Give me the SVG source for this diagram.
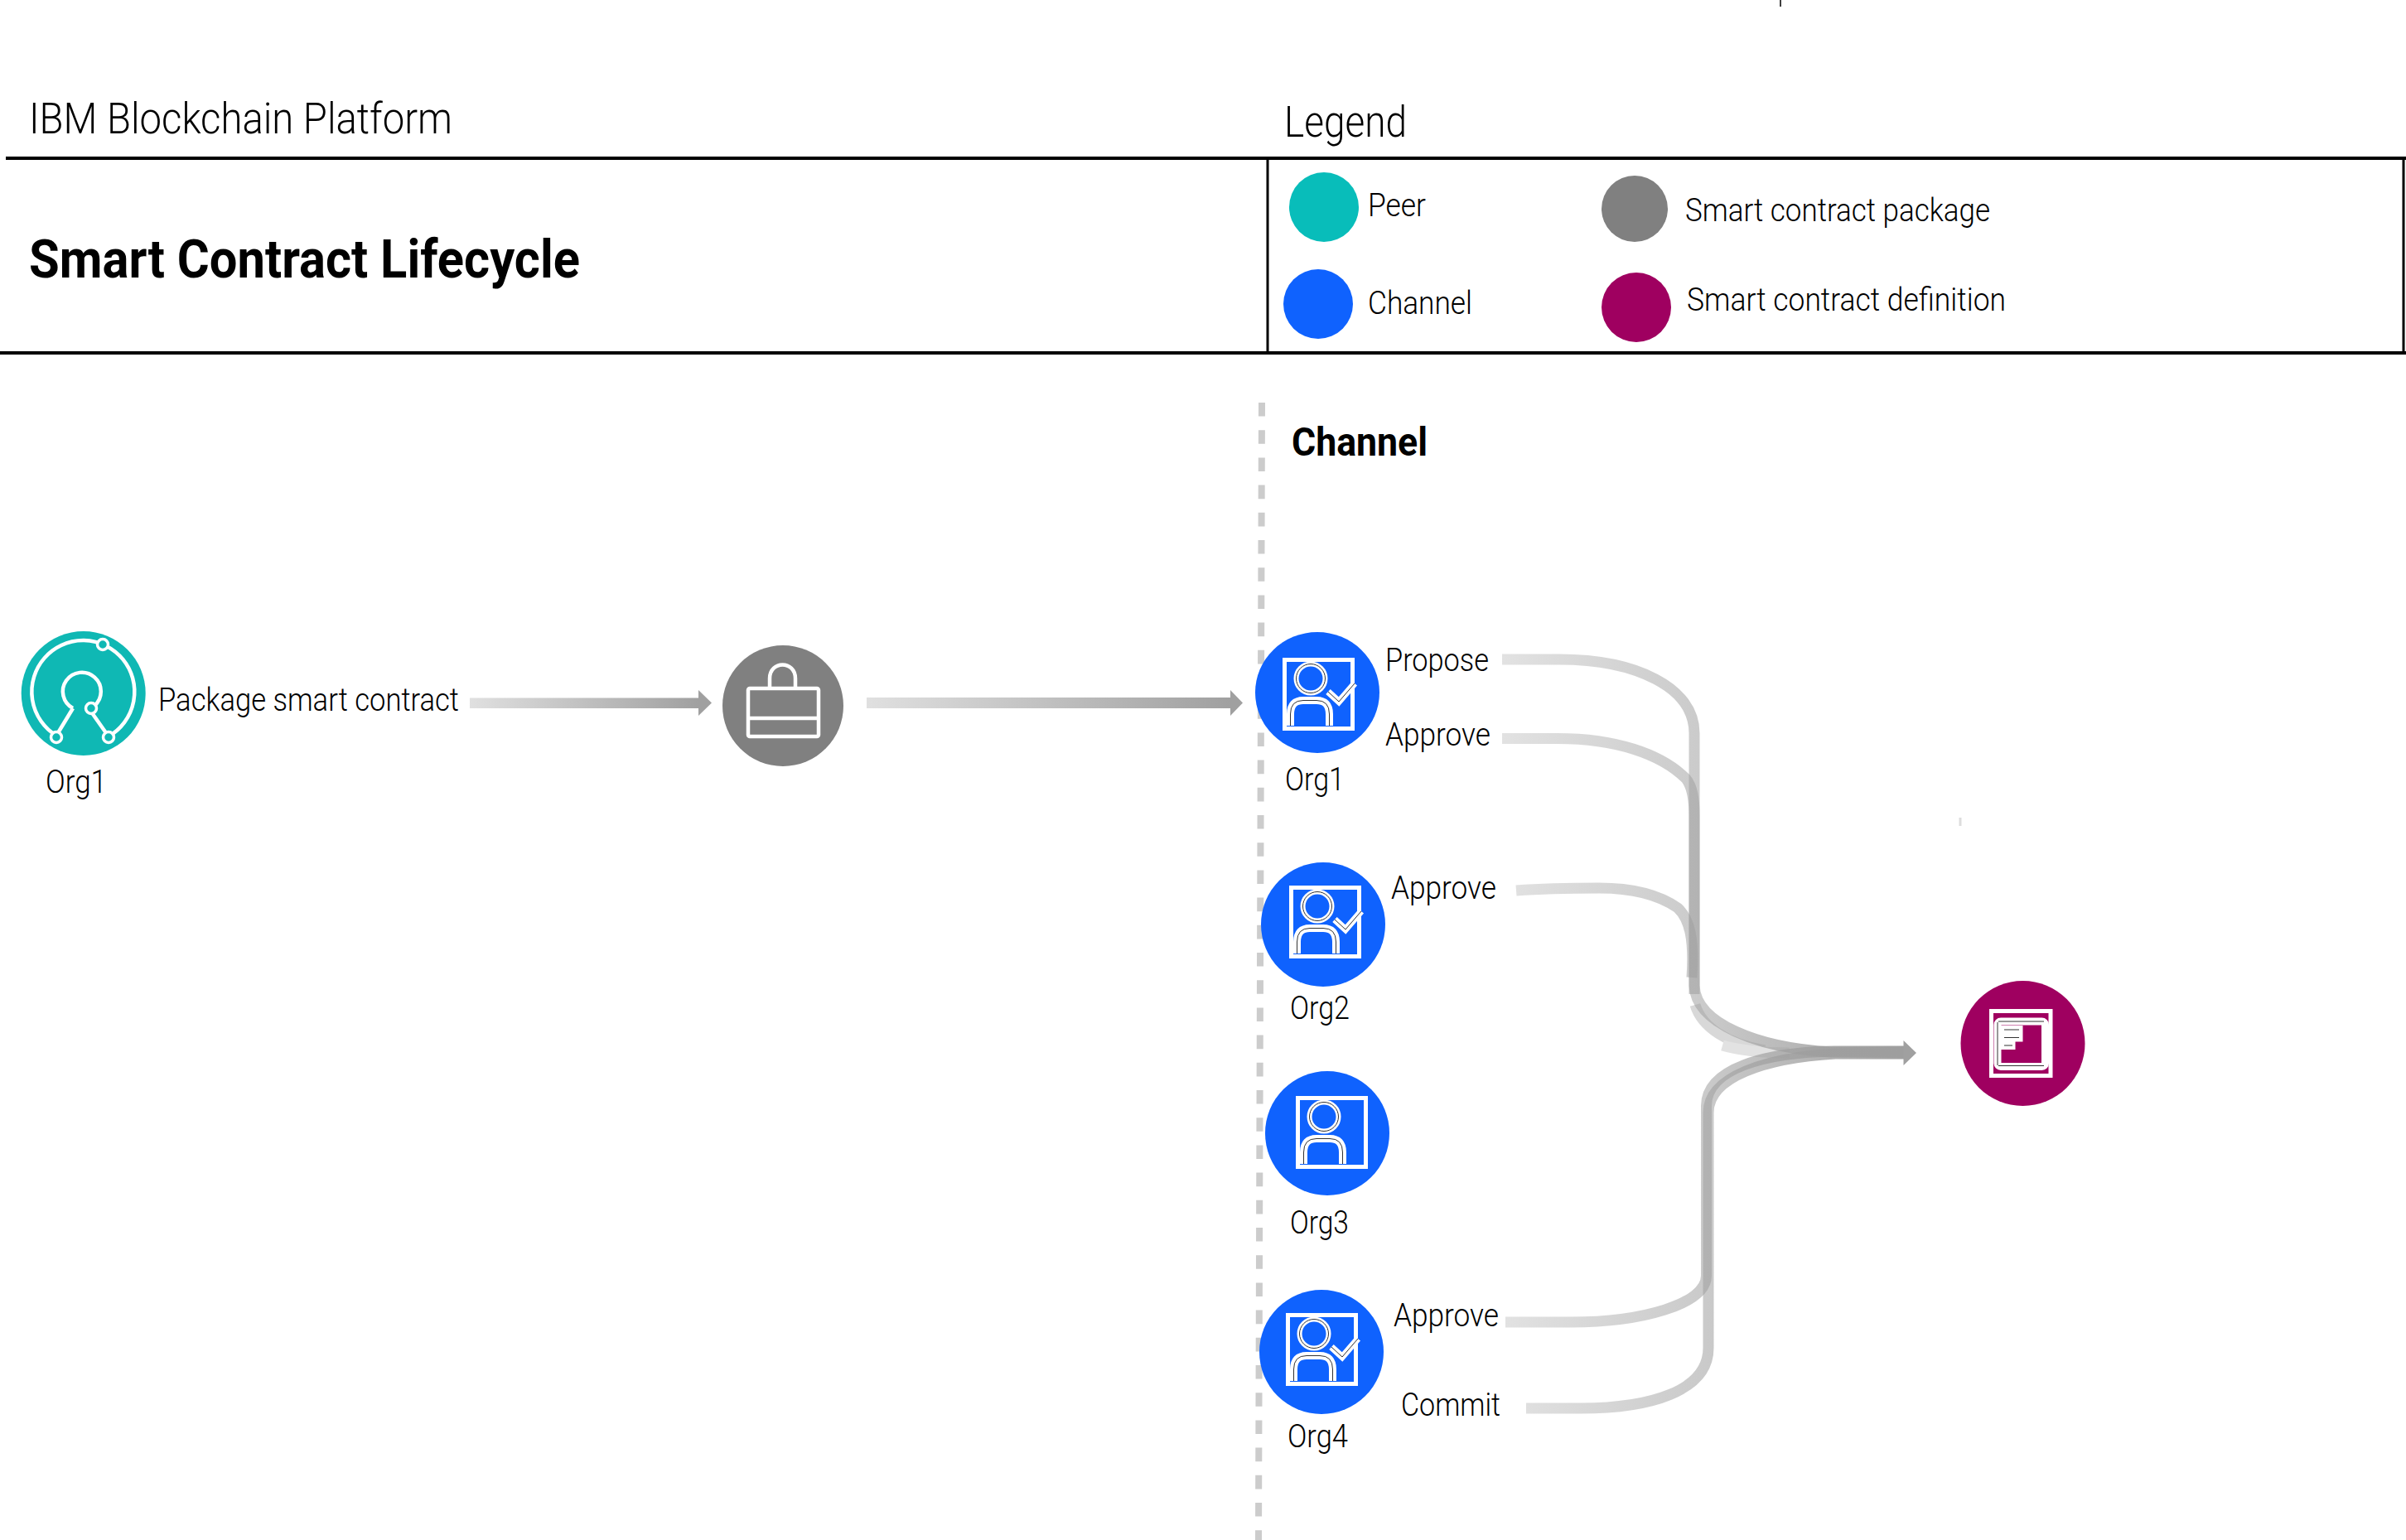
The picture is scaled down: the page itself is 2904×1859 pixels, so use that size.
<svg xmlns="http://www.w3.org/2000/svg" xmlns:xlink="http://www.w3.org/1999/xlink" width="2904" height="1859" viewBox="0 0 2904 1859">
<style>
text{font-family:"Liberation Sans Narrow","Roboto",sans-serif;fill:#000}
.l{font-size:38px;font-weight:300}
.t{font-size:51px;font-weight:300}
.b{font-weight:700}
.rule{stroke:#000;fill:none}
.w{fill:none;stroke:#fff;stroke-width:4.5}
.conn{fill:none;stroke-width:13}
.thin{fill:none;stroke:#333;stroke-width:1}
.fat{fill:none;stroke:#fff;stroke-width:9}
.head{fill:#a0a0a0}
</style>
<defs>
<linearGradient id="gU" gradientUnits="userSpaceOnUse" x1="1813" y1="0" x2="2313" y2="0"><stop offset="0" stop-color="#9e9e9e" stop-opacity=".3"/><stop offset=".5" stop-color="#9e9e9e" stop-opacity=".55"/><stop offset="1" stop-color="#9e9e9e" stop-opacity="1"/></linearGradient>
<linearGradient id="gA1" gradientUnits="userSpaceOnUse" x1="567" y1="0" x2="843" y2="0"><stop offset="0" stop-color="#e0e0e0"/><stop offset="1" stop-color="#a0a0a0"/></linearGradient>
<linearGradient id="gA2" gradientUnits="userSpaceOnUse" x1="1046" y1="0" x2="1485" y2="0"><stop offset="0" stop-color="#e0e0e0"/><stop offset="1" stop-color="#a0a0a0"/></linearGradient>
<g id="person">
<rect x="2.500" y="2.500" width="82" height="83" fill="none" stroke="#fff" stroke-width="5"/>
<ellipse cx="34" cy="25" rx="17.500" ry="17.500" fill="none" stroke="#fff" stroke-width="6"/>
<ellipse cx="34" cy="25" rx="17.500" ry="17.500" class="thin"/>
<path class="fat" d="M9.500 82V68Q9.500 51.500 25 51.500H41Q56.500 51.500 56.500 68V82"/>
<path class="thin" d="M9.500 82V68Q9.500 51.500 25 51.500H41Q56.500 51.500 56.500 68V82"/>
</g>
<g id="check">
<path d="M55 41L68 53L87 31" fill="none" stroke="#fff" stroke-width="8"/>
<path class="thin" d="M55 41L68 53L87 31" stroke-width=".8"/>
</g>
</defs>
<rect width="2904" height="1859" fill="#fff"/>

<g id="header">
<path class="rule" stroke-width="1.500" d="M2149 0V8"/>
<path class="rule" stroke-width="4" d="M7 191H2904M0 426H2904"/>
<path class="rule" stroke-width="3" d="M1530 191V426M2901 191V426"/>
<text class="t" x="35" y="160.500" textLength="511" lengthAdjust="spacingAndGlyphs">IBM Blockchain Platform</text>
<text class="b" style="font-size:65px" x="35" y="335" textLength="665" lengthAdjust="spacingAndGlyphs">Smart Contract Lifecycle</text>
<text class="t" x="1550" y="165" textLength="148" lengthAdjust="spacingAndGlyphs">Legend</text>
</g>

<g id="legend">
<ellipse cx="1598" cy="250" rx="42" ry="42" fill="#08bdba"/>
<text class="l" x="1651" y="261" textLength="70" lengthAdjust="spacingAndGlyphs">Peer</text>
<ellipse cx="1591" cy="367" rx="42" ry="42" fill="#0f62fe"/>
<text class="l" x="1651" y="379" textLength="126" lengthAdjust="spacingAndGlyphs">Channel</text>
<ellipse cx="1973" cy="252" rx="40" ry="40" fill="#808080"/>
<text class="l" x="2034" y="267" textLength="368" lengthAdjust="spacingAndGlyphs">Smart contract package</text>
<ellipse cx="1975" cy="371" rx="42" ry="42" fill="#9f0060"/>
<text class="l" x="2036" y="375" textLength="385" lengthAdjust="spacingAndGlyphs">Smart contract definition</text>
</g>

<path id="channel-line" d="M1523 486L1519 1859" fill="none" stroke="#ccc" stroke-width="8" stroke-dasharray="16.6 16.6"/>
<text id="channel-title" class="b" style="font-size:48px" x="1559" y="549.500" textLength="164" lengthAdjust="spacingAndGlyphs">Channel</text>
<rect id="mark" x="2364.500" y="987" width="3" height="10" fill="#ddd"/>

<g id="connectors">
<path d="M567 842.500H843V833L859 848.500L843 864V855H567Z" fill="url(#gA1)"/>
<path d="M1046 842H1485V833L1500 848.500L1485 864V855H1046Z" fill="url(#gA2)"/>
<path class="conn" stroke="#d8d8d8" d="M2046 1213C2054 1240 2085 1260 2130 1268"/>
<path class="conn" stroke="#e2e2e2" d="M2079 1262C2100 1268 2125 1271 2160 1271"/>
<path class="conn" stroke="url(#gU)" d="M1813 796H1882C1975 796 2045 830 2045 885V1190C2047 1235 2120 1265 2210 1270H2298"/>
<path class="conn" stroke="url(#gU)" d="M1813 891.500H1880C1950 891.500 2005 910 2035 940C2043 950 2045 965 2045 985V1200"/>
<path class="conn" stroke="url(#gU)" d="M1830 1075C1870 1072 1900 1072 1930 1072C1975 1072 2005 1082 2025 1096C2040 1110 2045 1135 2042 1180"/>
<path class="conn" stroke="url(#gU)" d="M1817 1596H1896C1980 1596 2059.500 1575 2059.500 1540V1335C2059.500 1290 2130 1270 2215 1269H2298"/>
<path class="conn" stroke="url(#gU)" d="M1842 1700H1908C1990 1700 2062 1680 2062 1627V1343C2062 1300 2130 1277 2215 1272H2298"/>
<path class="head" d="M2297.500 1256L2313 1271L2297.500 1286Z"/>
</g>

<g id="peer-org1">
<ellipse cx="100.700" cy="837" rx="75" ry="75" fill="#0fb8b4"/>
<path class="w" d="M68 888A62 62 0 1 1 131 889"/>
<path class="w" d="M88 855A23 23 0 1 1 114 852"/>
<path class="w" d="M88 855L68 888M112 862L131 889"/>
<circle class="w" cx="124" cy="778" r="6.500" style="fill:#0fb8b4;stroke-width:3.500"/>
<circle class="w" cx="68" cy="890" r="6.500" style="fill:#0fb8b4;stroke-width:3.500"/>
<circle class="w" cx="131" cy="890" r="6.500" style="fill:#0fb8b4;stroke-width:3.500"/>
<circle class="w" cx="110" cy="855" r="6.500" style="fill:#0fb8b4;stroke-width:3.500"/>
<text class="l" x="55" y="957" textLength="74" lengthAdjust="spacingAndGlyphs">Org1</text>
<text class="l" x="191" y="858" textLength="363" lengthAdjust="spacingAndGlyphs">Package smart contract</text>
</g>

<g id="package">
<ellipse cx="945" cy="852" rx="73" ry="73" fill="#808080"/>
<rect class="w" x="903" y="831" width="85" height="58" rx="2"/>
<path class="w" d="M903 867H988M929 831V819C929 797 960 797 960 819V831"/>
</g>

<g id="channel-org1">
<ellipse cx="1590" cy="836" rx="75" ry="73" fill="#0f62fe"/>
<use xlink:href="#person" href="#person" x="1548" y="794"/><use xlink:href="#check" href="#check" x="1548" y="794"/>
<text class="l" x="1551" y="954" textLength="72" lengthAdjust="spacingAndGlyphs">Org1</text>
<text class="l" x="1672" y="810" textLength="125" lengthAdjust="spacingAndGlyphs">Propose</text>
<text class="l" x="1672" y="900" textLength="127" lengthAdjust="spacingAndGlyphs">Approve</text>
</g>

<g id="channel-org2">
<ellipse cx="1597" cy="1116" rx="75" ry="75" fill="#0f62fe"/>
<use xlink:href="#person" href="#person" x="1556" y="1069"/><use xlink:href="#check" href="#check" x="1556" y="1069"/>
<text class="l" x="1557" y="1230" textLength="72" lengthAdjust="spacingAndGlyphs">Org2</text>
<text class="l" x="1679" y="1085" textLength="127" lengthAdjust="spacingAndGlyphs">Approve</text>
</g>

<g id="channel-org3">
<ellipse cx="1602" cy="1368" rx="75" ry="75" fill="#0f62fe"/>
<use xlink:href="#person" href="#person" x="1564" y="1323"/>
<text class="l" x="1557" y="1489" textLength="71" lengthAdjust="spacingAndGlyphs">Org3</text>
</g>

<g id="channel-org4">
<ellipse cx="1595" cy="1632" rx="75" ry="75" fill="#0f62fe"/>
<use xlink:href="#person" href="#person" x="1552" y="1585"/><use xlink:href="#check" href="#check" x="1552" y="1585"/>
<text class="l" x="1554" y="1747" textLength="73" lengthAdjust="spacingAndGlyphs">Org4</text>
<text class="l" x="1682" y="1601" textLength="127" lengthAdjust="spacingAndGlyphs">Approve</text>
<text class="l" x="1691" y="1709" textLength="120" lengthAdjust="spacingAndGlyphs">Commit</text>
</g>

<g id="definition">
<ellipse cx="2441.500" cy="1259.500" rx="75" ry="75.500" fill="#9f0060"/>
<rect x="2403.500" y="1220.500" width="71.500" height="78" fill="none" stroke="#fff" stroke-width="5"/>
<rect x="2411" y="1233" width="57.500" height="54.500" rx="4" fill="none" stroke="#fff" stroke-width="9"/>
<path class="thin" d="M2412 1233H2467M2412 1286.500H2467M2411 1234V1286"/>
<path fill="#fff" d="M2415 1238H2441.500V1257.500H2432.500V1267H2415Z"/>
<path class="thin" d="M2419 1243H2437M2419 1252.500H2437M2419 1262H2429"/>
</g>
</svg>
